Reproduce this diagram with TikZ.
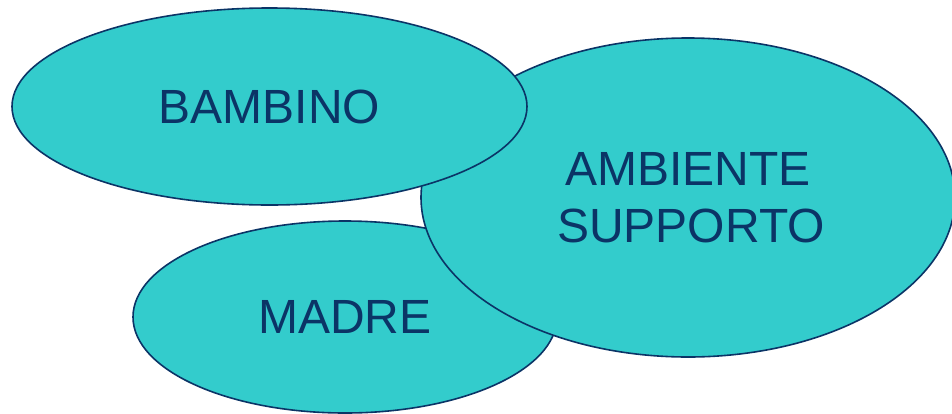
\documentclass[tikz,border=0pt]{standalone}
\usepackage{fontspec}
\setmainfont{Liberation Sans}
\usetikzlibrary{shapes.geometric}
\definecolor{fillc}{HTML}{33CCCC}
\definecolor{navy}{HTML}{0B3466}
\tikzset{
  blob/.style={ellipse, draw=navy, fill=fillc, line width=1.6pt, inner sep=0pt,
    text=navy, font=\fontsize{48}{57}\selectfont, align=center}
}
\begin{document}
\begin{tikzpicture}[x=1pt,y=-1pt]
\useasboundingbox (0,0) rectangle (952,413);
\clip (0,0) rectangle (952,413);
\node[blob, minimum width=424pt, minimum height=192pt] (madre) at (345,317) {MADRE};
\node[blob, minimum width=534pt, minimum height=319pt] (amb) at (688,197.5) {AMBIENTE\\\hspace*{6pt}SUPPORTO};
\node[blob, minimum width=515pt, minimum height=197pt] (bamb) at (269.5,106.5) {BAMBINO};
\end{tikzpicture}
\end{document}
